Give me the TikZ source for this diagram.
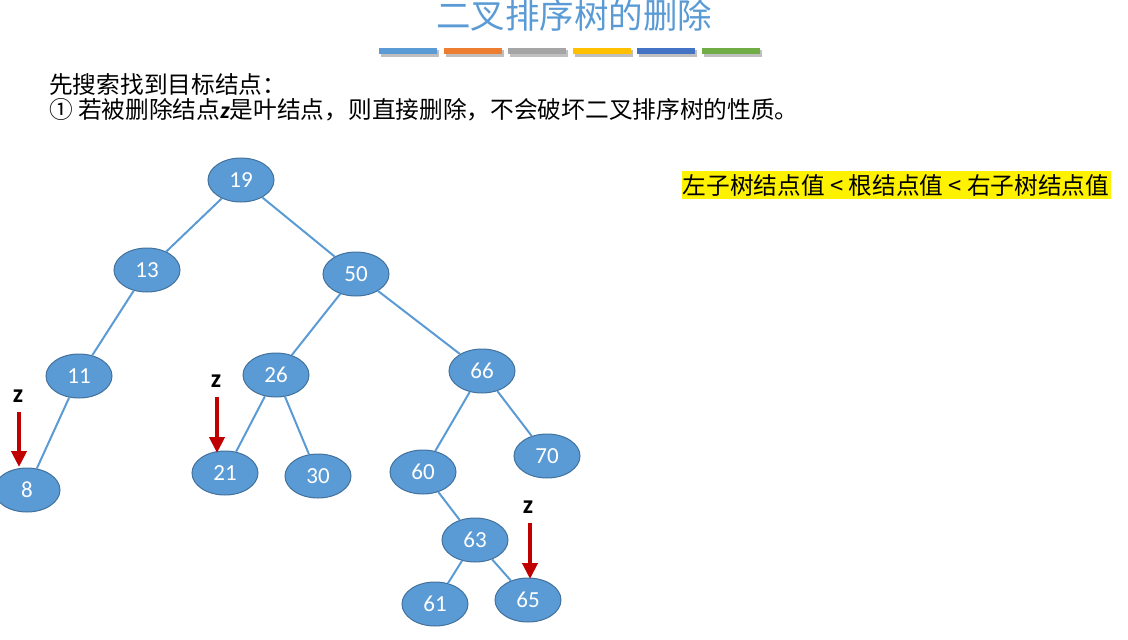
\documentclass[tikz,border=0pt]{standalone}
\usepackage{fontspec}
\setmainfont{Carlito}
\newfontfamily\cjk{Noto Sans CJK SC}
\usetikzlibrary{positioning,arrows.meta,shapes.geometric}
\definecolor{Blue}{HTML}{5B9BD5}
\definecolor{BlueDark}{HTML}{41719C}
\definecolor{Red}{HTML}{C00000}
\definecolor{Orange}{HTML}{ED7D31}
\definecolor{Gray}{HTML}{A5A5A5}
\definecolor{Gold}{HTML}{FFC000}
\definecolor{Navy}{HTML}{4472C4}
\definecolor{Green}{HTML}{70AD47}

\begin{document}
\begin{tikzpicture}[x=1pt,y=-1pt]
\tikzstyle{bst}=[ellipse,draw=BlueDark,fill=Blue,line width=1pt,minimum width=66pt,minimum height=44pt,inner sep=0pt,text=white,font=\fontsize{23}{25}\selectfont]
\tikzstyle{edge}=[draw=Blue,line width=2pt]
\tikzstyle{pointer}=[-{Triangle[length=16pt,width=15pt]},line width=4.5pt,Red]
\tikzstyle{zlabel}=[font=\fontsize{26}{28}\selectfont\bfseries,inner sep=0pt]
\tikzstyle{body}=[anchor=west,inner sep=0pt,font=\cjk\fontsize{23.7}{26}\selectfont]
\useasboundingbox (0,0) rectangle (1128,640);
% title and colour bars
\node[text=Blue,font=\cjk\fontsize{34.5}{36}\selectfont] (title) at (574,15) {二叉排序树的删除};
\foreach \c [count=\i from 0] in {Blue,Orange,Gray,Gold,Navy,Green} {
  \fill[black!25] (381+64.6*\i,50) rectangle ++(58,7);
  \fill[\c] (379+64.6*\i,48) rectangle ++(58,6);
}
% text
\node[body] (line1) at (49,85) {先搜索找到目标结点：};
\node[body] (line2) at (49,110) {① 若被删除结点{\fontspec{Carlito}\bfseries\itshape z}是叶结点，则直接删除，不会破坏二叉排序树的性质。};
\node[fill=yellow,inner sep=0pt,minimum width=429pt,minimum height=28pt,font=\cjk\fontsize{23.7}{26}\selectfont] (rule) at (896,185) {左子树结点值 < 根结点值 < 右子树结点值};
% tree
\node[bst] (n19) at (241,180) {19};
\node[bst] (n13) at (147,270) {13};
\node[bst] (n50) at (356,274) {50};
\node[bst] (n11) at (79,376) {11};
\node[bst] (n26) at (276,375) {26};
\node[bst] (n66) at (482,371) {66};
\node[bst] (n8) at (27,490) {8};
\node[bst] (n21) at (225,473) {21};
\node[bst] (n30) at (318,476) {30};
\node[bst] (n60) at (423,472) {60};
\node[bst] (n70) at (547,456) {70};
\node[bst] (n63) at (475,540) {63};
\node[bst] (n61) at (435,604) {61};
\node[bst] (n65) at (528,600) {65};
\draw[edge] (n19)--(n13);
\draw[edge] (n19)--(n50);
\draw[edge] (n13)--(n11);
\draw[edge] (n11)--(n8);
\draw[edge] (n50)--(n26);
\draw[edge] (n50)--(n66);
\draw[edge] (n26)--(n21);
\draw[edge] (n26)--(n30);
\draw[edge] (n66)--(n60);
\draw[edge] (n66)--(n70);
\draw[edge] (n60)--(n63);
\draw[edge] (n63)--(n61);
\draw[edge] (n63)--(n65);
% leaves to delete
\node[zlabel] (z1) at (18,396) {z};
\node[zlabel] (z2) at (216,381) {z};
\node[zlabel] (z3) at (528,507) {z};
\coordinate (t1) at (19,467);
\coordinate (t2) at (217,453);
\coordinate (t3) at (530,579);
\draw[pointer] ([yshift=-9pt]z1.south -| t1) -- (t1);
\draw[pointer] ([yshift=-9pt]z2.south -| t2) -- (t2);
\draw[pointer] ([yshift=-9pt]z3.south -| t3) -- (t3);
\end{tikzpicture}
\end{document}
